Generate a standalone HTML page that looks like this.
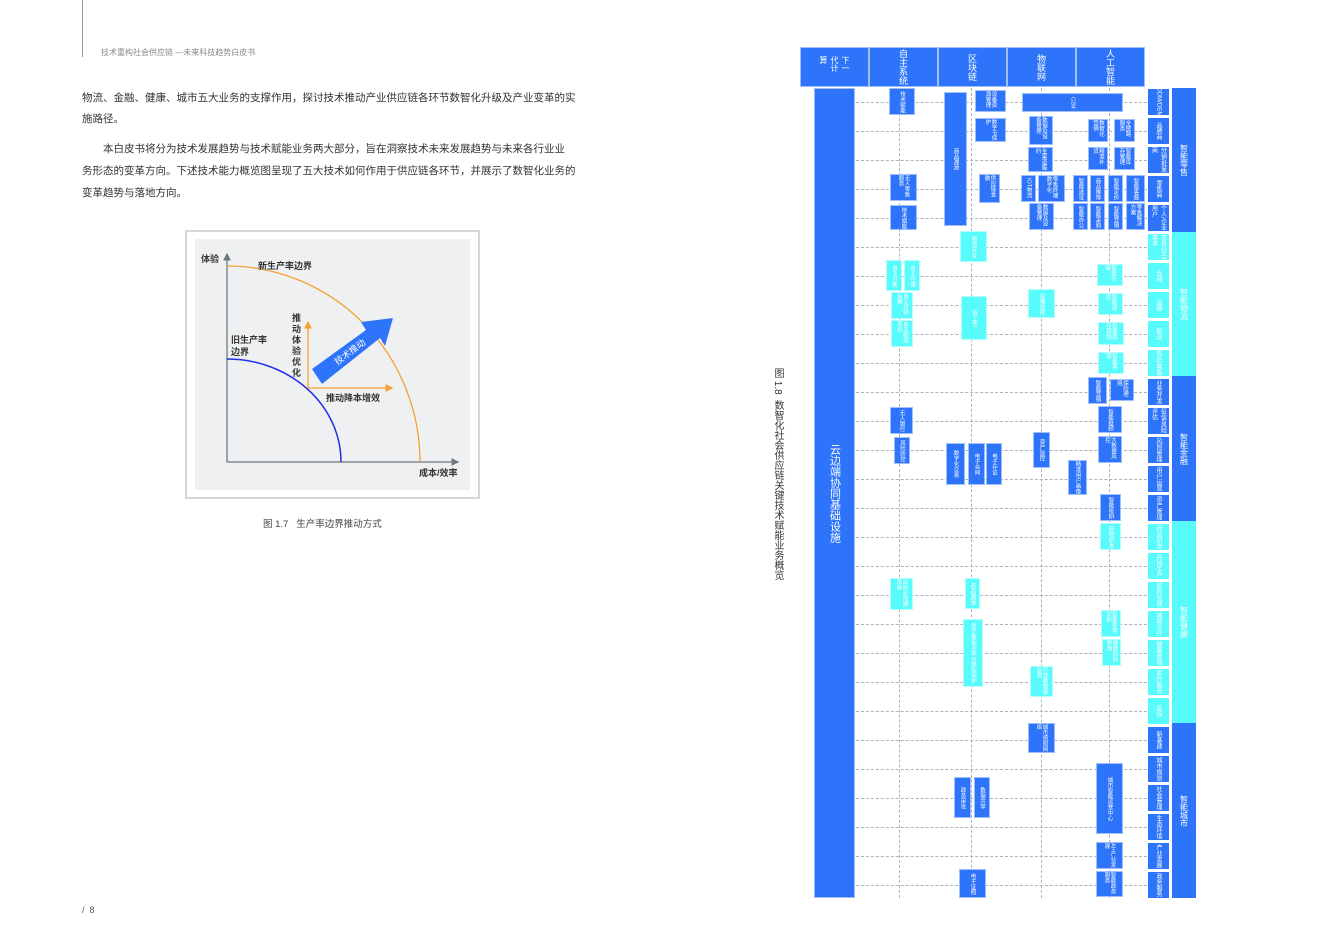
<!DOCTYPE html>
<html><head><meta charset="utf-8"><style>
*{margin:0;padding:0;box-sizing:border-box}
body{width:1330px;height:945px;background:#fff;position:relative;overflow:hidden;font-family:"Liberation Sans","Noto Sans CJK SC",sans-serif;color:#333}
.a{position:absolute}
.p{position:absolute;left:82px;font-size:10.5px;white-space:nowrap;color:#333}
.b{position:absolute;background:#2e74fb;color:#fff;font-size:5.5px;writing-mode:vertical-rl;display:flex;align-items:center;justify-content:center;overflow:hidden;line-height:1.1;border:1px solid #9fbefc}
.c{background:#58fbfc;border-color:#b5fdfd}
.h{position:absolute;top:47px;height:40px;background:#2e74fb;border:1px solid #9fbefc;color:#fff;font-size:9px;writing-mode:vertical-rl;display:flex;align-items:center;justify-content:center;white-space:nowrap}
.hl{position:absolute;left:856px;width:291px;border-top:1px dashed #aab4c0}
.vl{position:absolute;top:88px;height:810px;border-left:1px dashed #aab4c0}
.s{position:absolute;left:1147px;width:23px;height:28px;background:#2e74fb;color:#fff;font-size:6px;writing-mode:vertical-rl;display:flex;align-items:center;justify-content:center;border:1px solid #fff;overflow:hidden}
.sc{background:#58fbfc}
</style></head><body>
<div class="a" style="left:82px;top:0;width:1px;height:57px;background:#999"></div>
<div class="a" style="left:101px;top:47px;font-size:8px;color:#888">技术重构社会供应链 —未来科技趋势白皮书</div>
<div class="p" style="top:90px">物流、金融、健康、城市五大业务的支撑作用，探讨技术推动产业供应链各环节数智化升级及产业变革的实</div>
<div class="p" style="top:111px">施路径。</div>
<div class="p" style="top:141px;left:103px">本白皮书将分为技术发展趋势与技术赋能业务两大部分，旨在洞察技术未来发展趋势与未来各行业业</div>
<div class="p" style="top:163px">务形态的变革方向。下述技术能力概览图呈现了五大技术如何作用于供应链各环节，并展示了数智化业务的</div>
<div class="p" style="top:185px">变革趋势与落地方向。</div>
<div class="a" style="left:185px;top:230px;width:295px;height:269px;border:2px solid #d5d8da"></div>
<div class="a" style="left:195px;top:239px;width:275px;height:251px;background:#eef0f2"></div>
<svg class="a" style="left:0;top:0" width="600" height="600">
<defs><marker id="g" markerWidth="6" markerHeight="6" refX="5" refY="3" orient="auto"><path d="M0,0L6,3L0,6z" fill="#6d7b7d"/></marker>
<marker id="o" markerWidth="6" markerHeight="6" refX="5" refY="3" orient="auto"><path d="M0,0L6,3L0,6z" fill="#f7a030"/></marker></defs>
<line x1="227" y1="462" x2="227" y2="254" stroke="#6d7b7d" stroke-width="1.3" marker-end="url(#g)"/>
<line x1="227" y1="462" x2="458" y2="462" stroke="#6d7b7d" stroke-width="1.3" marker-end="url(#g)"/>
<path d="M227,266 A193,196 0 0 1 420,462" fill="none" stroke="#f7a030" stroke-width="1.3"/>
<path d="M227,359 A114,103 0 0 1 341,462" fill="none" stroke="#1f2fe8" stroke-width="1.5"/>
<line x1="308" y1="388" x2="308" y2="322" stroke="#f7a030" stroke-width="1.3" marker-end="url(#o)"/>
<line x1="308" y1="388" x2="392" y2="388" stroke="#f7a030" stroke-width="1.3" marker-end="url(#o)"/>
<polygon points="312,369 366,330 361,322 393,318 385,346 380,338 322,384" fill="#2e74fb"/>
<text x="350" y="355" text-anchor="middle" font-size="9" fill="#fff" transform="rotate(-37 350 352)" font-family="Liberation Sans,Noto Sans CJK SC,sans-serif">技术推动</text>
<g font-size="9" fill="#333" font-family="Liberation Sans,Noto Sans CJK SC,sans-serif" font-weight="bold">
<text x="201" y="262">体验</text><text x="258" y="269">新生产率边界</text>
<text x="231" y="343">旧生产率</text><text x="231" y="355">边界</text>
<text x="292" y="321">推</text><text x="292" y="332">动</text><text x="292" y="343">体</text><text x="292" y="354">验</text><text x="292" y="365">优</text><text x="292" y="376">化</text>
<text x="326" y="401">推动降本增效</text><text x="419" y="476">成本/效率</text></g>
</svg>
<div class="a" style="left:263px;top:516px;font-size:9.5px;color:#444">图 1.7&nbsp;&nbsp;&nbsp;生产率边界推动方式</div>
<div class="a" style="left:82px;top:905px;font-size:9px;color:#555">/&nbsp; 8</div>

<div class="a" style="left:770px;top:368px;font-size:10px;writing-mode:vertical-rl;color:#333">图 1.8&nbsp;&nbsp;数智化社会供应链关键技术赋能业务概览</div>

<div class="h" style="left:800px;width:69px;white-space:normal;font-size:8px"><span style="height:22px;display:block">下一代计算</span></div>
<div class="h" style="left:869px;width:69px">自主系统</div>
<div class="h" style="left:938px;width:69px">区块链</div>
<div class="h" style="left:1007px;width:69px">物联网</div>
<div class="h" style="left:1076px;width:69px">人工智能</div>

<div class="vl" style="left:899px"></div><div class="vl" style="left:971px"></div><div class="vl" style="left:1041px"></div><div class="vl" style="left:1109px"></div>
<div id="hls"></div>
<div class="a" style="left:814px;top:88px;width:41px;height:810px;background:#2e74fb;border:1px solid #9fbefc;color:#fff;font-size:11px;writing-mode:vertical-rl;display:flex;align-items:center;justify-content:center">云边端协同基础设施</div>

<div class="a" style="left:1172px;top:88px;width:24px;height:144px;background:#2e74fb;color:#fff;font-size:8px;writing-mode:vertical-rl;display:flex;align-items:center;justify-content:center">智能零售</div>
<div class="a" style="left:1172px;top:232px;width:24px;height:144px;background:#58fbfc;color:#fff;font-size:8px;writing-mode:vertical-rl;display:flex;align-items:center;justify-content:center">智能物流</div>
<div class="a" style="left:1172px;top:376px;width:24px;height:145px;background:#2e74fb;color:#fff;font-size:8px;writing-mode:vertical-rl;display:flex;align-items:center;justify-content:center">智能金融</div>
<div class="a" style="left:1172px;top:521px;width:24px;height:202px;background:#58fbfc;color:#fff;font-size:8px;writing-mode:vertical-rl;display:flex;align-items:center;justify-content:center">智能健康</div>
<div class="a" style="left:1172px;top:723px;width:24px;height:175px;background:#2e74fb;color:#fff;font-size:8px;writing-mode:vertical-rl;display:flex;align-items:center;justify-content:center">智能城市</div>
<div id="subs"></div>

<div class="b" style="left:889px;top:88px;width:26px;height:27px">技术赋能</div>
<div class="b" style="left:944px;top:92px;width:23px;height:134px">商品溯源</div>
<div class="b" style="left:975px;top:90px;width:31px;height:22px">设备资源管理</div>
<div class="b" style="left:975px;top:118px;width:31px;height:24px">数字IP保护</div>
<div class="b" style="left:1022px;top:93px;width:101px;height:19px">C2M</div>
<div class="b" style="left:1029px;top:116px;width:24px;height:29px">数据及设备管理</div>
<div class="b" style="left:1028px;top:147px;width:25px;height:25px">全渠道履约</div>
<div class="b" style="left:1088px;top:119px;width:20px;height:23px">数智化营销</div>
<div class="b" style="left:1114px;top:119px;width:21px;height:23px">全链路服务</div>
<div class="b" style="left:1088px;top:147px;width:20px;height:23px">精准补货</div>
<div class="b" style="left:1114px;top:147px;width:21px;height:23px">智能库存管理</div>
<div class="b" style="left:890px;top:174px;width:27px;height:27px">无人零售服务</div>
<div class="b" style="left:890px;top:205px;width:27px;height:25px">技术赋能</div>
<div class="b" style="left:979px;top:174px;width:21px;height:29px">供应链金融</div>
<div class="b" style="left:1021px;top:175px;width:15px;height:27px">IOT物流</div>
<div class="b" style="left:1038px;top:175px;width:27px;height:27px">零售终端数字化</div>
<div class="b" style="left:1073px;top:175px;width:15px;height:27px">智能选址</div>
<div class="b" style="left:1090px;top:175px;width:15px;height:27px">商品推荐</div>
<div class="b" style="left:1108px;top:175px;width:15px;height:27px">智能定价</div>
<div class="b" style="left:1126px;top:175px;width:19px;height:27px">智能客服</div>
<div class="b" style="left:1029px;top:203px;width:25px;height:27px">数据及设备管理</div>
<div class="b" style="left:1073px;top:203px;width:15px;height:27px">智能办公</div>
<div class="b" style="left:1090px;top:203px;width:15px;height:27px">智能采购</div>
<div class="b" style="left:1108px;top:203px;width:15px;height:27px">智能营销</div>
<div class="b" style="left:1126px;top:203px;width:19px;height:27px">零售解决方案</div>

<div class="b c" style="left:960px;top:231px;width:27px;height:31px">物流存证</div>
<div class="b c" style="left:886px;top:260px;width:16px;height:31px">自主分拣</div>
<div class="b c" style="left:904px;top:260px;width:16px;height:31px">自主仓储</div>
<div class="b c" style="left:891px;top:292px;width:22px;height:27px">自主货物运输</div>
<div class="b c" style="left:891px;top:320px;width:22px;height:27px">自主配送系统</div>
<div class="b c" style="left:961px;top:296px;width:26px;height:44px">链上签</div>
<div class="b c" style="left:1028px;top:289px;width:27px;height:29px">运输监控</div>
<div class="b c" style="left:1097px;top:264px;width:26px;height:22px">智能仓储</div>
<div class="b c" style="left:1098px;top:293px;width:25px;height:22px">智能调度</div>
<div class="b c" style="left:1098px;top:322px;width:26px;height:23px">智能路径规划</div>
<div class="b c" style="left:1098px;top:352px;width:26px;height:22px">智能客服</div>

<div class="b" style="left:1088px;top:377px;width:19px;height:27px">智能营销</div>
<div class="b" style="left:1110px;top:379px;width:24px;height:22px">保险理赔</div>
<div class="b" style="left:1098px;top:406px;width:24px;height:27px">智能投顾</div>
<div class="b" style="left:1098px;top:436px;width:24px;height:27px">大数据风控</div>
<div class="b" style="left:890px;top:407px;width:23px;height:27px">无人银行</div>
<div class="b" style="left:894px;top:437px;width:16px;height:27px">风险防控</div>
<div class="b" style="left:946px;top:443px;width:19px;height:42px">数字化交易</div>
<div class="b" style="left:968px;top:443px;width:17px;height:42px">电子合同</div>
<div class="b" style="left:986px;top:443px;width:16px;height:42px">电子存证</div>
<div class="b" style="left:1033px;top:432px;width:17px;height:36px">资产监控</div>
<div class="b" style="left:1068px;top:460px;width:19px;height:35px">精准用户画像</div>
<div class="b" style="left:1100px;top:494px;width:21px;height:27px">智能投研</div>
<div class="b c" style="left:1100px;top:523px;width:21px;height:27px">药物研发</div>
<div class="b c" style="left:890px;top:578px;width:23px;height:32px">自动化流通系统</div>
<div class="b c" style="left:965px;top:578px;width:15px;height:31px">药品溯源</div>
<div class="b c" style="left:963px;top:619px;width:20px;height:68px">医疗数据共享与隐私保护</div>
<div class="b c" style="left:1101px;top:610px;width:20px;height:27px">智能影像识别</div>
<div class="b c" style="left:1102px;top:639px;width:19px;height:27px">健康风险预测</div>
<div class="b c" style="left:1030px;top:666px;width:23px;height:31px">可穿戴健康监测</div>

<div class="b" style="left:1028px;top:723px;width:27px;height:30px">城市感知网络</div>
<div class="b" style="left:954px;top:777px;width:17px;height:41px">政务审批</div>
<div class="b" style="left:974px;top:777px;width:16px;height:41px">数据共享</div>
<div class="b" style="left:1096px;top:763px;width:27px;height:71px">城市智能运营中心</div>
<div class="b" style="left:1096px;top:842px;width:27px;height:27px">AI+产业发展</div>
<div class="b" style="left:1096px;top:871px;width:27px;height:26px">智能政务服务</div>
<div class="b" style="left:959px;top:869px;width:27px;height:29px">电子证照</div>

<script>
var rows=28,h='',s='';
var labels=["ODM/OEM","品牌商","分销/批发商","零售商","个人/企业用户","交易/社会需求","仓储","运输","配送","售后/客服","业务开发","征信/风险评估","风险管理","用户运营","资产管理","药品研发","药械生产","医药流通","辅助诊疗","健康管理","医疗服务","医保","新基建","城市规划","社会管理","生态环境","产业发展","政务服务"];
for(var i=0;i<rows;i++){var y=88+i*29;h+='<div class="hl" style="top:'+(y+14)+'px"></div>';
var c=(i>=5&&i<10)||(i>=15&&i<22)?' sc':'';s+='<div class="s'+c+'" style="top:'+y+'px">'+labels[i]+'</div>';}
document.getElementById('hls').outerHTML=h;document.getElementById('subs').outerHTML=s;
</script>
</body></html>
